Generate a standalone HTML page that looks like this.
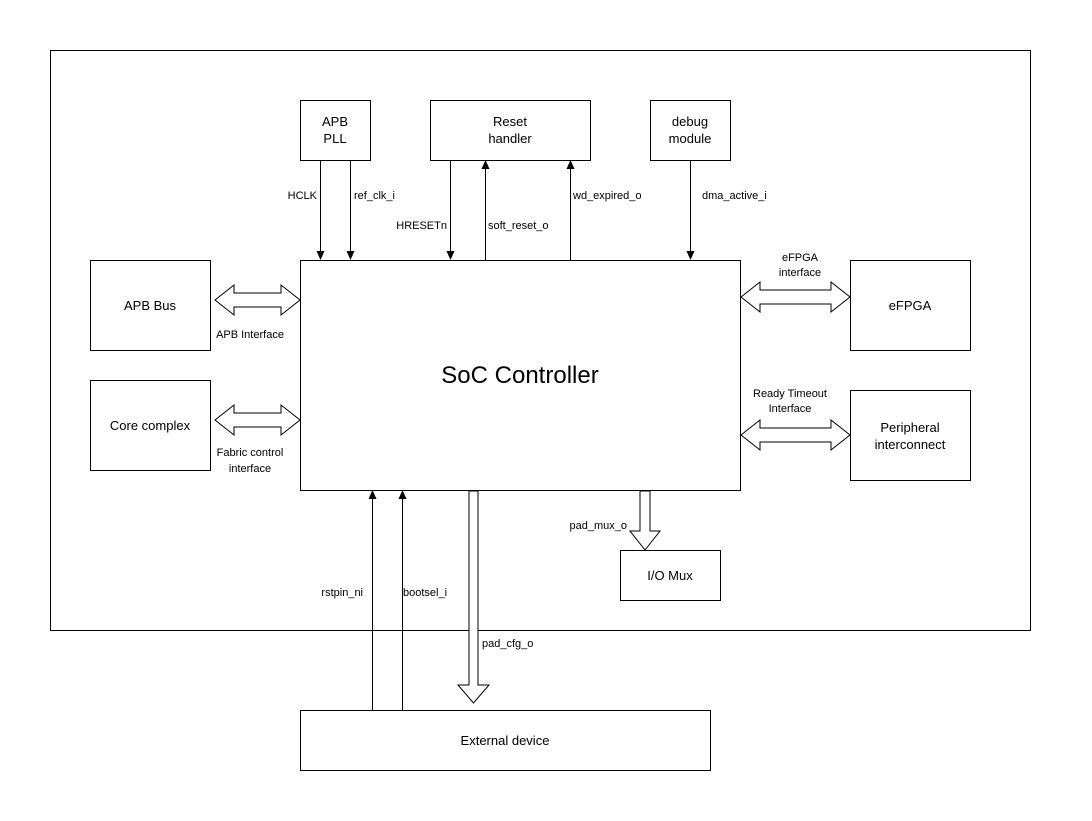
<!DOCTYPE html>
<html><head><style>body{margin:0;background:#fff}svg{display:block}text{font-family:"Liberation Sans",Arial,sans-serif;fill:#000}</style></head><body>
<svg width="1092" height="821" viewBox="0 0 1092 821" xmlns="http://www.w3.org/2000/svg">
<defs><marker id="a" markerWidth="8" markerHeight="8" refX="4" refY="7" orient="auto-start-reverse" markerUnits="userSpaceOnUse"><path d="M0,0 L4,7 L8,0 Z" transform="rotate(0)"/></marker></defs>
<g fill="#fff" stroke="#000" stroke-width="1">
<rect x="50.5" y="50.5" width="980" height="580"/>
<rect x="300.5" y="100.5" width="70" height="60"/>
<rect x="430.5" y="100.5" width="160" height="60"/>
<rect x="650.5" y="100.5" width="80" height="60"/>
<rect x="300.5" y="260.5" width="440" height="230"/>
<rect x="90.5" y="260.5" width="120" height="90"/>
<rect x="90.5" y="380.5" width="120" height="90"/>
<rect x="850.5" y="260.5" width="120" height="90"/>
<rect x="850.5" y="390.5" width="120" height="90"/>
<rect x="620.5" y="550.5" width="100" height="50"/>
<rect x="300.5" y="710.5" width="410" height="60"/>
</g>
<g stroke="#000" stroke-width="1" fill="none">
<line x1="320.5" y1="160" x2="320.5" y2="252"/>
<line x1="350.5" y1="160" x2="350.5" y2="252"/>
<line x1="450.5" y1="160" x2="450.5" y2="252"/>
<line x1="690.5" y1="160" x2="690.5" y2="252"/>
<line x1="485.5" y1="260" x2="485.5" y2="168"/>
<line x1="570.5" y1="260" x2="570.5" y2="168"/>
<line x1="372.5" y1="710" x2="372.5" y2="498"/>
<line x1="402.5" y1="710" x2="402.5" y2="498"/>
</g>
<g fill="#000">
<path d="M316.5,251 L324.5,251 L320.5,260Z"/>
<path d="M346.5,251 L354.5,251 L350.5,260Z"/>
<path d="M446.5,251 L454.5,251 L450.5,260Z"/>
<path d="M686.5,251 L694.5,251 L690.5,260Z"/>
<path d="M481.5,169 L489.5,169 L485.5,160Z"/>
<path d="M566.5,169 L574.5,169 L570.5,160Z"/>
<path d="M368.5,499 L376.5,499 L372.5,490Z"/>
<path d="M398.5,499 L406.5,499 L402.5,490Z"/>
</g>
<g fill="#fff" stroke="#000" stroke-width="1">
<path d="M215,300 L234,285 L234,293 L281,293 L281,285 L300,300 L281,315 L281,307 L234,307 L234,315 Z"/>
<path d="M215,420 L234,405 L234,413 L281,413 L281,405 L300,420 L281,435 L281,427 L234,427 L234,435 Z"/>
<path d="M741,297 L760,282 L760,290 L831,290 L831,282 L850,297 L831,312 L831,304 L760,304 L760,312 Z"/>
<path d="M741,435 L760,420 L760,428 L831,428 L831,420 L850,435 L831,450 L831,442 L760,442 L760,450 Z"/>
<path d="M469,491 L478,491 L478,685 L489,685 L473.5,703 L458,685 L469,685 Z"/>
<path d="M640,491 L650,491 L650,531 L660,531 L645,550 L630,531 L640,531 Z"/>
</g>
<g font-size="13" text-anchor="middle">
<text x="335" y="126">APB</text><text x="335" y="143">PLL</text>
<text x="510" y="126">Reset</text><text x="510" y="143">handler</text>
<text x="690" y="126">debug</text><text x="690" y="143">module</text>
<text x="150" y="310">APB Bus</text>
<text x="150" y="430">Core complex</text>
<text x="910" y="310">eFPGA</text>
<text x="910" y="432">Peripheral</text><text x="910" y="449">interconnect</text>
<text x="670" y="580">I/O Mux</text>
<text x="505" y="745">External device</text>
<text x="520" y="383" font-size="24">SoC Controller</text>
</g>
<g font-size="11">
<text x="317" y="199" text-anchor="end">HCLK</text>
<text x="354" y="199">ref_clk_i</text>
<text x="447" y="229" text-anchor="end">HRESETn</text>
<text x="488" y="229">soft_reset_o</text>
<text x="573" y="199">wd_expired_o</text>
<text x="702" y="199">dma_active_i</text>
<text x="250" y="338" text-anchor="middle">APB Interface</text>
<text x="250" y="456" text-anchor="middle">Fabric control</text>
<text x="250" y="472" text-anchor="middle">interface</text>
<text x="800" y="261" text-anchor="middle">eFPGA</text>
<text x="800" y="276" text-anchor="middle">interface</text>
<text x="790" y="397" text-anchor="middle">Ready Timeout</text>
<text x="790" y="412" text-anchor="middle">Interface</text>
<text x="363" y="596" text-anchor="end">rstpin_ni</text>
<text x="403" y="596">bootsel_i</text>
<text x="482" y="647">pad_cfg_o</text>
<text x="627" y="529" text-anchor="end">pad_mux_o</text>
</g>
</svg>
</body></html>
